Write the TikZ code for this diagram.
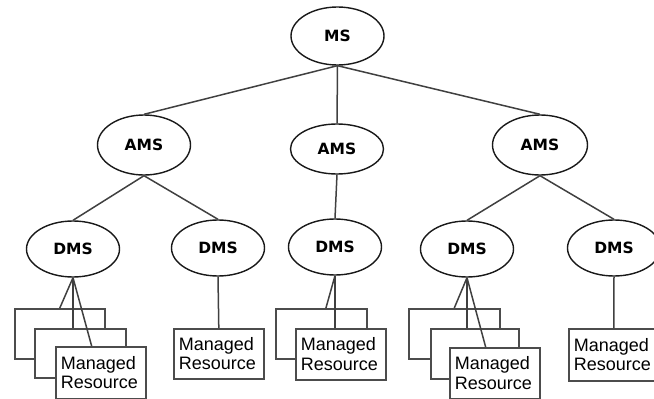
\documentclass[tikz,border=0pt]{standalone}
\usepackage{fontspec}
\usetikzlibrary{shapes.geometric,calc}
\newfontfamily\labelfont{DejaVu Sans}
\newfontfamily\boxfont{Liberation Sans}
\begin{document}
\begin{tikzpicture}[x=1pt,y=-1pt,
  server/.style={draw=black!90,line width=1.4pt,fill=white,ellipse,inner sep=0pt,
    minimum width=93pt,minimum height=56pt,font=\labelfont\bfseries\fontsize{15.5}{16}\selectfont},
  resbox/.style={draw=black!70,line width=1.6pt,fill=white,anchor=north west,
    minimum width=90pt,minimum height=50pt,inner sep=0pt},
  mrbox/.style={resbox,text width=80pt,inner sep=5pt,align=left,
    font=\boxfont\fontsize{18}{19.5}\selectfont},
  link/.style={draw=black!75,line width=1.5pt}]
\useasboundingbox (0,0) rectangle (654,399);
\clip (0,0) rectangle (654,399);

% servers
\node[server,minimum height=58pt] (ms) at (337.5,36) {MS};
\node[server,minimum height=60pt] (a1) at (144,145) {AMS};
\node[server,minimum height=50pt] (a2) at (337,149) {AMS};
\node[server,minimum height=60pt,minimum width=95pt] (a3) at (540,145) {AMS};
\node[server] (d1) at (73,249) {DMS};
\node[server] (d2) at (218,248) {DMS};
\node[server] (d3) at (335,247) {DMS};
\node[server] (d4) at (467,249) {DMS};
\node[server] (d5) at (614,248) {DMS};

% tree links
\draw[link] (ms.south) -- (a1.north);
\draw[link] (ms.south) -- (a2.north);
\draw[link] (ms.south) -- (a3.north);
\draw[link] (a1.south) -- (d1.north);
\draw[link] (a1.south) -- (d2.north);
\draw[link] (a2.south) -- (d3.north);
\draw[link] (a3.south) -- (d4.north);
\draw[link] (a3.south) -- (d5.north);

% managed resources
\node[resbox] (r1a) at (14,308) {};
\node[resbox,minimum width=91pt,minimum height=49pt] (r1b) at (34,328) {};
\node[mrbox,minimum height=52pt] (r1c) at (55,346) {Managed\\Resource};

\node[mrbox] (r2) at (173,328) {Managed\\Resource};

\node[resbox,minimum width=91pt] (r3a) at (275,308) {};
\node[mrbox,minimum height=51pt] (r3b) at (295,328) {Managed\\Resource};

\node[resbox,minimum width=91pt] (r4a) at (408,308) {};
\node[resbox,minimum width=88pt] (r4b) at (430,328) {};
\node[mrbox,minimum height=51pt] (r4c) at (449,347) {Managed\\Resource};

\node[mrbox,minimum height=52pt] (r5) at (568,328) {Managed\\Resource};

% links to resources
\draw[link] (d1.south) -- (r1a.north);
\draw[link] (d1.south) -- (d1.south |- r1b.north);
\draw[link] (d1.south) -- ($(r1c.north west)!0.4!(r1c.north east)$);
\draw[link] (d2.south) -- (r2.north);
\draw[link] (d3.south) -- ($(r3a.north west)!0.55!(r3a.north east)$);
\draw[link] (d3.south) -- (d3.south |- r3b.north);
\draw[link] (d4.south) -- (r4a.north);
\draw[link] (d4.south) -- (d4.south |- r4b.north);
\draw[link] (d4.south) -- ($(r4c.north west)!0.4!(r4c.north east)$);
\draw[link] (d5.south) -- (r5.north);
\end{tikzpicture}
\end{document}
